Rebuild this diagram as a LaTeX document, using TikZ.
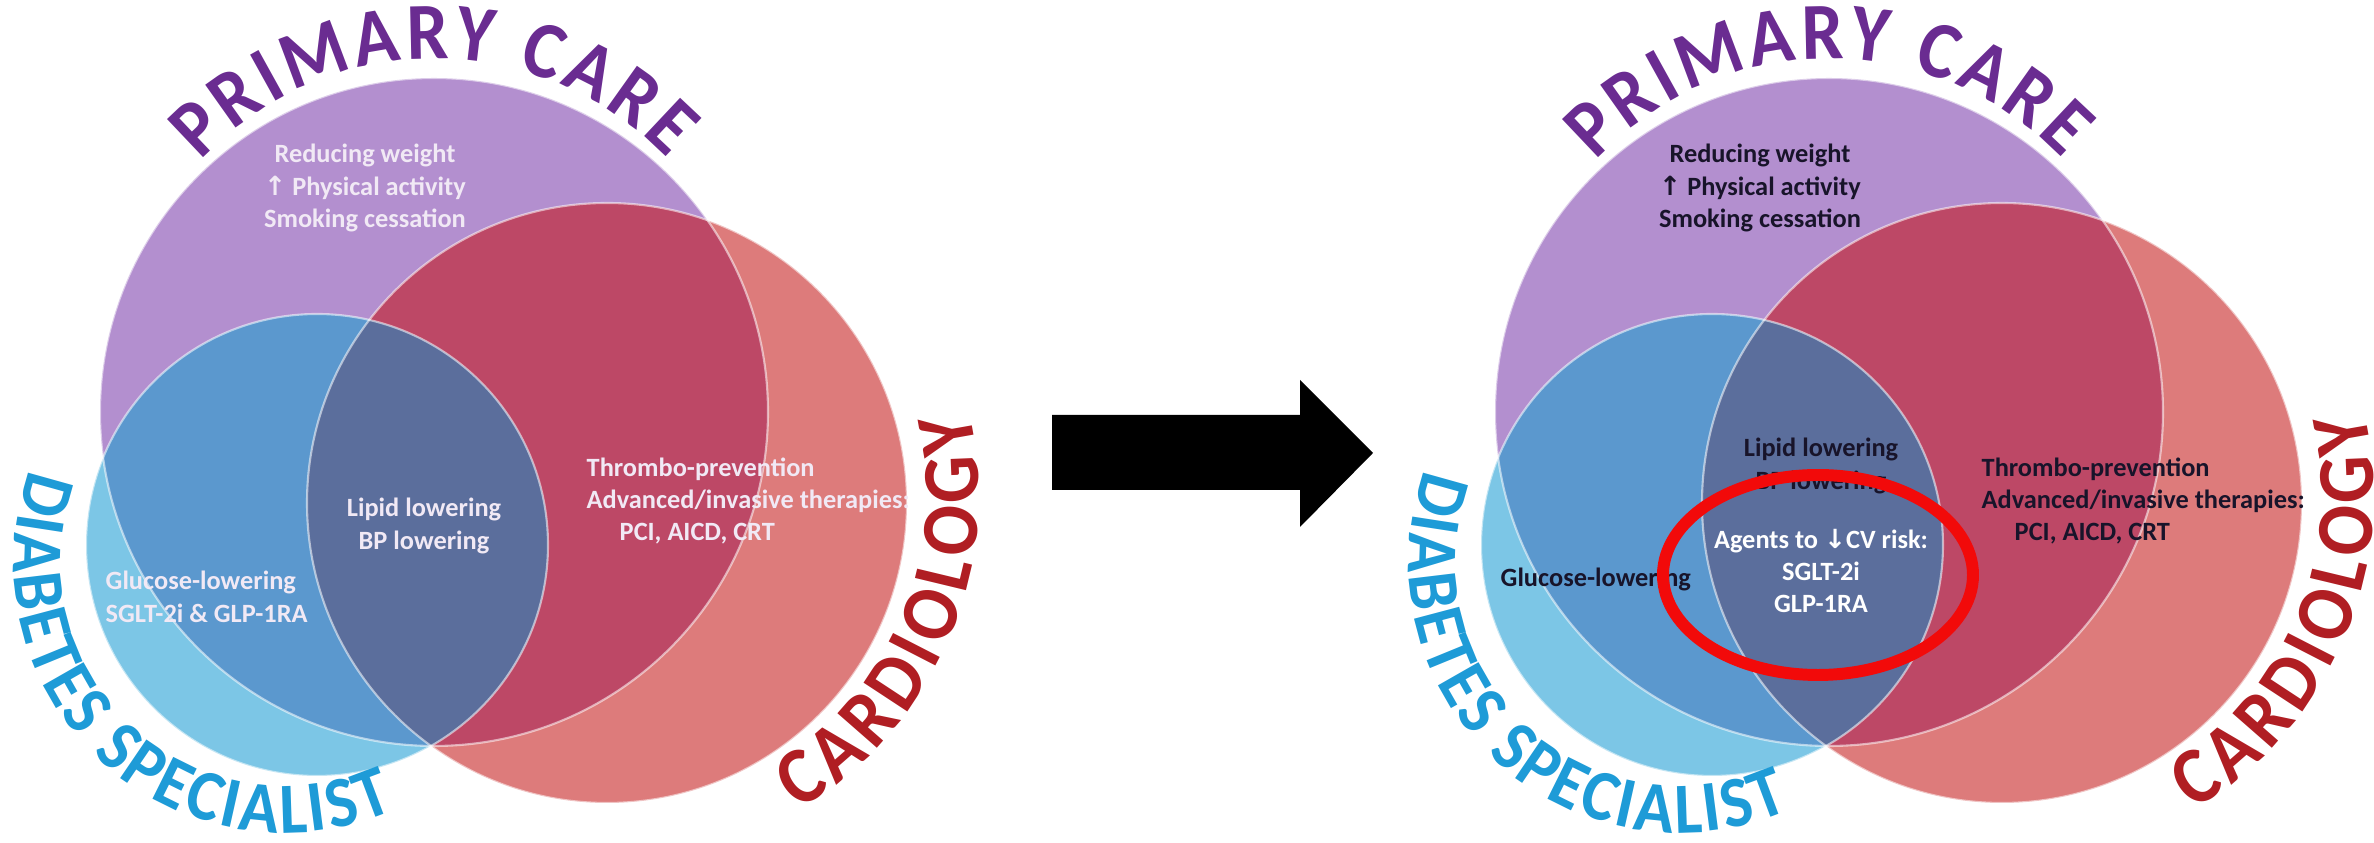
\documentclass[tikz,border=0pt]{standalone}
\usepackage{fontspec}
\setmainfont{Carlito}
\newfontfamily\arrowfont{DejaVu Sans}
\newfontfamily\lblfont{Carlito}[FakeStretch=0.92]
\usetikzlibrary{decorations.text}

\definecolor{lavender}{HTML}{B38FCF}
\definecolor{salmon}{HTML}{DD7B7B}
\definecolor{skyblue}{HTML}{7CC6E6}
\definecolor{wine}{HTML}{BD4866}
\definecolor{midblue}{HTML}{5B98CE}
\definecolor{navy}{HTML}{5B6E9C}
\definecolor{pcpurple}{HTML}{6A2C91}
\definecolor{dsblue}{HTML}{1E9BD7}
\definecolor{cardred}{HTML}{B01E23}
\definecolor{paletxt}{HTML}{F1E9F5}
\definecolor{darktxt}{HTML}{18142A}
\definecolor{hlred}{HTML}{F20A0A}

\newcommand{\primfont}{\lblfont\bfseries\fontsize{23}{23}\selectfont}
\newcommand{\diabfont}{\lblfont\bfseries\fontsize{20.5}{20.5}\selectfont}
\newcommand{\cardfont}{\lblfont\bfseries\fontsize{23}{23}\selectfont}

\begin{document}
\begin{tikzpicture}[x=0.01cm, y=0.01cm,
    txt/.style={font=\fontsize{7.5}{9.2}\selectfont\bfseries, align=center, inner sep=0pt},
    rim/.style={draw=white, draw opacity=0.55, line width=0.6pt},
    arclbl/.style={decorate, decoration={text along path, text align=fit to path, text color=#1}},
]
\useasboundingbox (0,0) rectangle (2374,843);

% Venn circles, before and after
\foreach \dx in {0,1395}{
  \begin{scope}[shift={(\dx,0)}]
    \fill[lavender] (434,431) circle[radius=334];
    \fill[salmon] (607,340) circle[radius=300];
    \fill[skyblue] (317,298) circle[radius=231];
    \begin{scope}
      \clip (434,431) circle[radius=334];
      \fill[wine] (607,340) circle[radius=300];
      \fill[midblue] (317,298) circle[radius=231];
    \end{scope}
    \begin{scope}
      \clip (607,340) circle[radius=300];
      \fill[navy] (317,298) circle[radius=231];
    \end{scope}
    \draw[rim] (434,431) circle[radius=334];
    \draw[rim] (607,340) circle[radius=300];
    \draw[rim] (317,298) circle[radius=231];

    % curved headings
    \path[arclbl=pcpurple, decoration={text={|\primfont|PRIMARY CARE}}]
      (435,464) ++(137:320) arc[start angle=137, end angle=43.5, radius=320];
    \path[arclbl=dsblue, decoration={text={|\diabfont|DIABETES SPECIALIST}}]
      (285,281) ++(160:271) arc[start angle=160, end angle=294, radius=271];
    \path[arclbl=cardred, decoration={text={|\cardfont|CARDIOLOGY}}]
      (612,349) ++(-59.5:367) arc[start angle=-59.5, end angle=13, radius=367];
  \end{scope}
}

% Before
\node[txt, text=paletxt] (prim1) at (365,655) {Reducing weight\\{\arrowfont ↑} Physical activity\\Smoking cessation};
\node[txt, text=paletxt] (lipid1) at (424,317) {Lipid lowering\\BP lowering};
\node[txt, text=paletxt, align=left, anchor=west] (thrombo1) at (586,342) {Thrombo-prevention\\Advanced/invasive therapies:\\\hspace*{0.33cm}PCI, AICD, CRT};
\node[txt, text=paletxt, align=left, anchor=west] (gluc1) at (105,246) {Glucose-lowering\\SGLT-2i \& GLP-1RA};

% Arrow between
\fill[black] (1052,428) -- (1300,428) -- (1300,463) -- (1373,390) -- (1300,316) -- (1300,353) -- (1052,353) -- cycle;

% After
\node[txt, text=darktxt] (prim2) at (1760,655) {Reducing weight\\{\arrowfont ↑} Physical activity\\Smoking cessation};
\node[txt, text=darktxt] (lipid2) at (1821,377) {Lipid lowering\\BP lowering};
\node[txt, text=white] (agents) at (1821,272) {Agents to {\arrowfont ↓}CV risk:\\SGLT-2i\\GLP-1RA};
\node[txt, text=darktxt, anchor=west] (gluc2) at (1500,264) {Glucose-lowering};
\node[txt, text=darktxt, align=left, anchor=west] (thrombo2) at (1981,342) {Thrombo-prevention\\Advanced/invasive therapies:\\\hspace*{0.33cm}PCI, AICD, CRT};

% Highlight
\draw[hlred, line width=3.4pt] (1818,268) ellipse[x radius=155, y radius=100];

\end{tikzpicture}
\end{document}
